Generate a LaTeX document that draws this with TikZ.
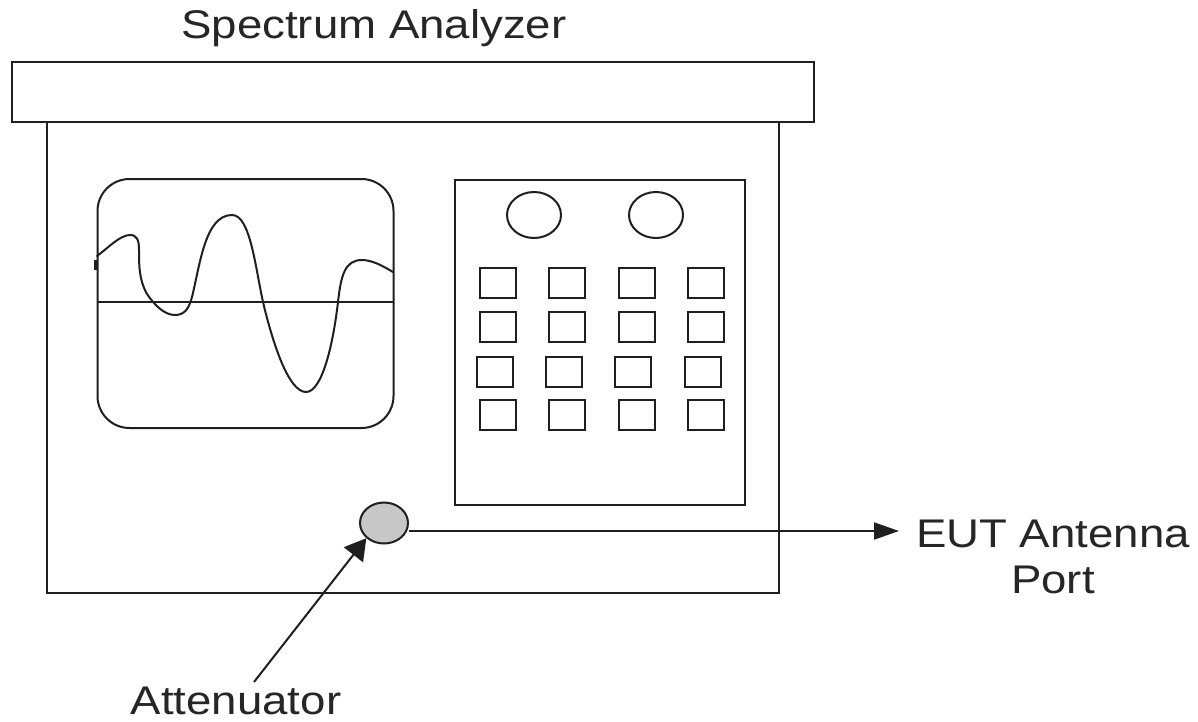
\documentclass[tikz,border=0pt]{standalone}
\usepackage{fontspec}
\setmainfont[FakeStretch=1.14]{Liberation Sans}
\usetikzlibrary{arrows.meta,shapes.geometric}
\tikzset{
  px/.style={x=1pt,y=-1pt},
  ln/.style={draw=black!88,line width=2pt},
  keybox/.style={ln,minimum width=36pt,minimum height=30pt,inner sep=0pt,outer sep=0pt},
  knob/.style={ln,ellipse,minimum width=54pt,minimum height=46pt,inner sep=0pt},
  lbl/.style={font=\fontsize{40}{46}\selectfont,text=black!85,inner sep=0pt,align=center},
  arrA/.style={ln,-{Triangle[length=25pt,width=17pt]}},
  arrB/.style={ln,-{Triangle[length=21pt,width=24pt]}}
}
\begin{document}
\begin{tikzpicture}[px]
\useasboundingbox (0,0) rectangle (1198,721);
\fill[white] (0,0) rectangle (1198,721);
% cabinet
\node[ln,minimum width=732pt,minimum height=472pt,inner sep=0pt,anchor=north west] (body) at (46,119.5) {};
\node[ln,fill=white,minimum width=802pt,minimum height=60pt,inner sep=0pt,anchor=north west] (top) at (11,60.5) {};
\node[lbl,anchor=base] (title) at (374,38) {Spectrum Analyzer};
% screen
\draw[ln,rounded corners=32pt] (97.5,179) rectangle (393.5,428);
\draw[ln] (98,302) -- (394,302);
\draw[ln,line width=3.5pt] (96,260) -- (96,270);
\draw[ln,line cap=round] (97,256) .. controls (108,248) and (120,235) .. (130,235)
  .. controls (137,235) and (139,240) .. (139,250)
  .. controls (139,265) and (139,280) .. (147,294)
  .. controls (155,306) and (165,315) .. (175,315)
  .. controls (185,315) and (189,308) .. (192,297)
  .. controls (200,265) and (205,215) .. (232,215)
  .. controls (250,215) and (255,265) .. (263,302)
  .. controls (272,340) and (288,392) .. (306,392)
  .. controls (322,392) and (333,345) .. (338,302)
  .. controls (341,275) and (345,260) .. (362,260)
  .. controls (372,260) and (383,266) .. (393,272);
% keypad
\node[ln,minimum width=290pt,minimum height=325pt,inner sep=0pt,anchor=north west] (pad) at (453.5,179) {};
\node[knob] (k1) at (534,215) {};
\node[knob] (k2) at (656,215) {};
\foreach \n/\x/\y in {a1/498/283,a2/567/283,a3/637/283,a4/706/283,
  b1/498/327,b2/567/327,b3/637/327,b4/706/327,
  c1/495/372,c2/564/372,c3/633/372,c4/703/372,
  d1/498/415,d2/567/415,d3/637/415,d4/706/415}
  \node[keybox] (\n) at (\x,\y) {};
% port
\node[ln,ellipse,fill=black!22,minimum width=48pt,minimum height=41pt,inner sep=0pt] (port) at (384,523) {};
\node[lbl,anchor=center] (eut) at (1053,557) {EUT Antenna\\Port};
\coordinate (eutin) at (899,531);
\draw[arrA] (port.east |- eutin) -- (eutin);
\node[lbl,anchor=base] (att) at (236,714.5) {Attenuator};
\coordinate (attout) at (254,682);
\draw[arrB] (attout) -- (port.south west);
\end{tikzpicture}
\end{document}
